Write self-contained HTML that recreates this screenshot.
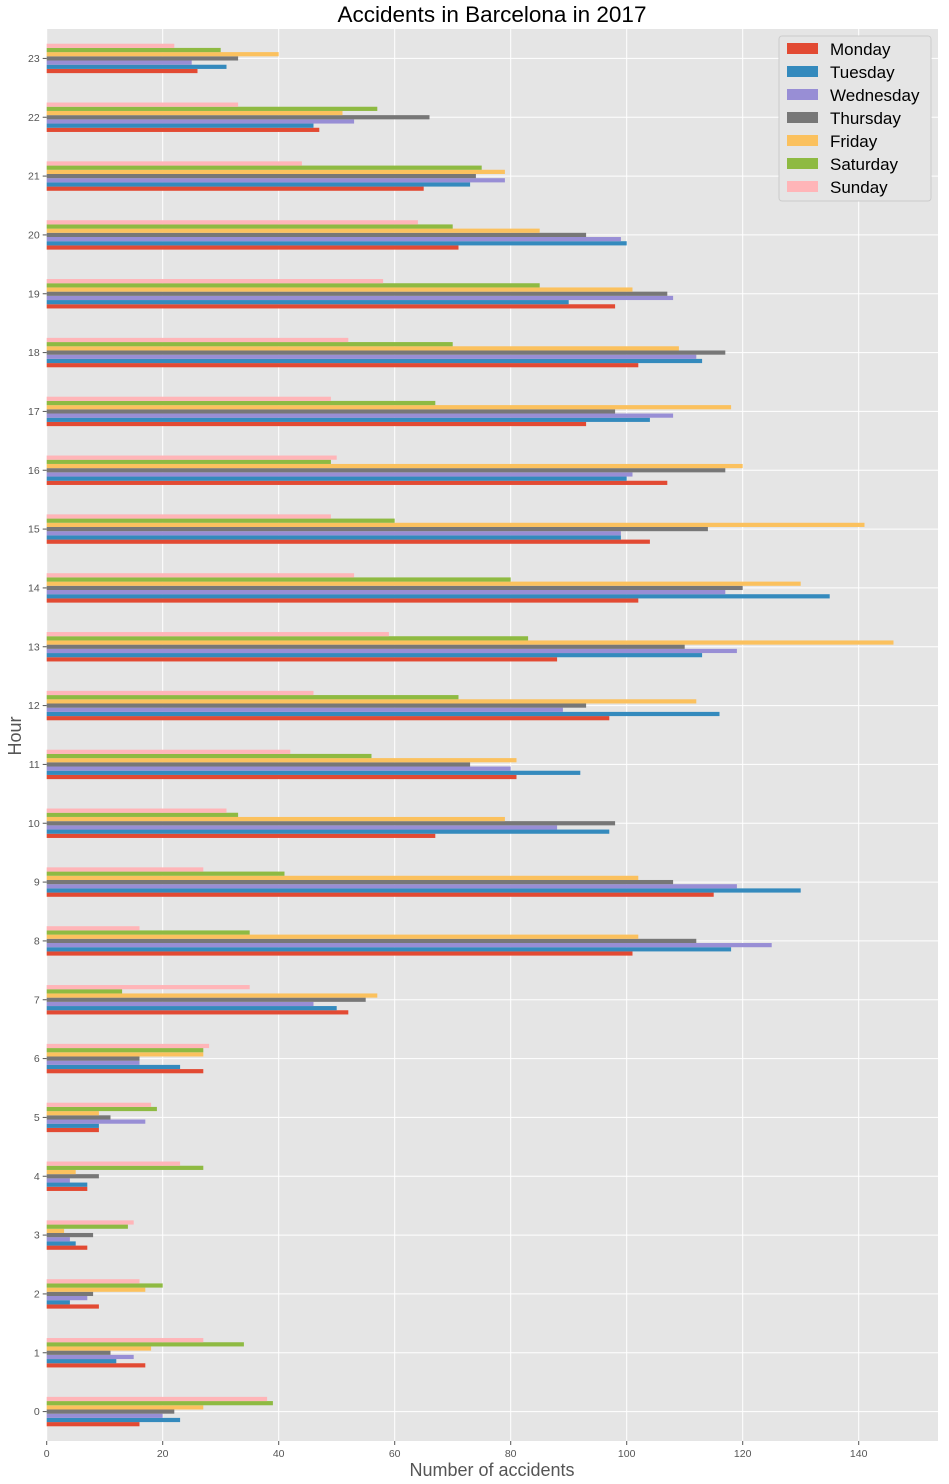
<!DOCTYPE html>
<html><head><meta charset="utf-8"><style>
body{margin:0;background:#fff;}
svg{display:block;font-family:"Liberation Sans",sans-serif;}
</style></head><body>
<svg id="chart" width="949" height="1484"></svg>
<script>
const hours=[0,1,2,3,4,5,6,7,8,9,10,11,12,13,14,15,16,17,18,19,20,21,22,23];
const days=["Monday","Tuesday","Wednesday","Thursday","Friday","Saturday","Sunday"];
const monday=[16,17,9,7,7,9,27,52,101,115,67,81,97,88,102,104,107,93,102,98,71,65,47,26];
const tuesday=[23,12,4,5,7,9,23,50,118,130,97,92,116,113,135,99,100,104,113,90,100,73,46,31];
const wednesday=[20,15,7,4,4,17,16,46,125,119,88,80,89,119,117,99,101,108,112,108,99,79,53,25];
const thursday=[22,11,8,8,9,11,16,55,112,108,98,73,93,110,120,114,117,98,117,107,93,74,66,33];
const friday=[27,18,17,3,5,9,27,57,102,102,79,81,112,146,130,141,120,118,109,101,85,79,51,40];
const saturday=[39,34,20,14,27,19,27,13,35,41,33,56,71,83,80,60,49,67,70,85,70,75,57,30];
const sunday=[38,27,16,15,23,18,28,35,16,27,31,42,46,59,53,49,50,49,52,58,64,44,33,22];
const xTicks=[0,20,40,60,80,100,120,140];
const series=[monday,tuesday,wednesday,thursday,friday,saturday,sunday];
const colors=["#E24A33","#348ABD","#988ED5","#777777","#FBC15E","#8EBA42","#FFB5B8"];

const L=46.7,R=938,T=29,B=1441;
const xs=v=>L+v*5.8;
const ys=h=>T+(23.5-h)*((B-T)/24);
const NS="http://www.w3.org/2000/svg";
const svg=document.getElementById('chart');
function mk(tag,attrs,parent){const e=document.createElementNS(NS,tag);for(const k in attrs)e.setAttribute(k,attrs[k]);(parent||svg).appendChild(e);return e;}

const bg=mk('rect',{x:L,y:T,width:R-L,height:B-T,fill:'#E5E5E5'});



xTicks.forEach(t=>{
  const l=mk('line',{x1:xs(t),x2:xs(t),y1:T,y2:B,stroke:'#fff','stroke-width':1});
  
  
  const tk=mk('line',{x1:xs(t),x2:xs(t),y1:B,y2:B+4,stroke:'#555'});
  
  
  const tx=mk('text',{x:xs(t),y:B+16,'text-anchor':'middle','font-size':10.5,fill:'#555'});
  tx.textContent=t;
  
  
});
hours.forEach(h=>{
  const l=mk('line',{x1:L,x2:R,y1:ys(h),y2:ys(h),stroke:'#fff','stroke-width':1});
  
  
  const tk=mk('line',{x1:L-4,x2:L,y1:ys(h),y2:ys(h),stroke:'#555'});
  
  
  const tx=mk('text',{x:L-7,y:ys(h)+3.5,'text-anchor':'end','font-size':10.5,fill:'#555'});
  tx.textContent=h;
  
  
});
const bh=(0.5/7)*((B-T)/24);
series.forEach((s,i)=>{
  s.forEach((v,j)=>{
    const yc=ys(hours[j]-0.25+(i+0.5)/14);
    const r=mk('rect',{x:xs(0),y:yc-bh/2,width:xs(v)-xs(0),height:bh,fill:colors[i]});
    
    
  });
});

const title=mk('text',{x:492,y:22,'text-anchor':'middle','font-size':22.5,fill:'#000'});
title.textContent='Accidents in Barcelona in 2017';


const xl=mk('text',{x:492,y:1476,'text-anchor':'middle','font-size':18,fill:'#555'});
xl.textContent='Number of accidents';


const yl=mk('text',{x:0,y:0,'text-anchor':'middle','font-size':18,fill:'#555',transform:'translate(21,736) rotate(-90)'});
yl.textContent='Hour';



const lg=mk('g',{});


mk('rect',{x:779,y:36,width:152,height:165,fill:'#E5E5E5',stroke:'#ccc',rx:3},lg);
days.forEach((d,i)=>{
  const y=49+i*23;
  const p=mk('rect',{x:787,y:y-6,width:31,height:11,fill:colors[i]},lg);
  
  
  const t=mk('text',{x:830,y:y+6,'font-size':17,fill:'#000'},lg);
  t.textContent=d;
  
  
});
</script>
</body></html>
